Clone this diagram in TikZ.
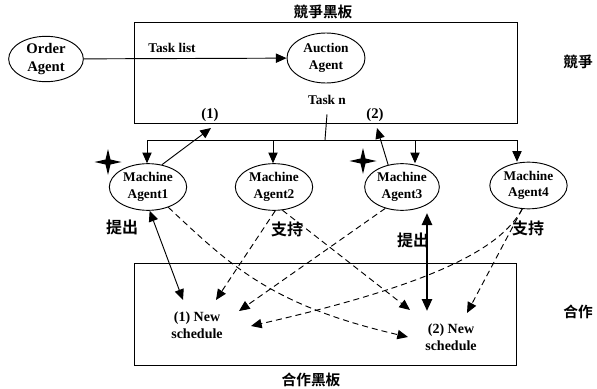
\documentclass[tikz,border=0pt]{standalone}
\usepackage{fontspec}
\setmainfont{Liberation Serif}
\newfontfamily\cjk{Noto Sans CJK TC Bold}
\usetikzlibrary{arrows.meta,shapes.geometric}
\begin{document}
\begin{tikzpicture}[x=0.75pt,y=-0.75pt,
  agent/.style={draw,ellipse,line width=0.7pt,inner sep=0pt,align=center,
    minimum width=58pt,minimum height=35pt,font=\fontsize{10}{12.5}\selectfont\bfseries},
  lbl/.style={font=\fontsize{10}{12}\selectfont\bfseries,inner sep=0pt},
  sched/.style={font=\fontsize{10.5}{12.5}\selectfont\bfseries,inner sep=0pt,align=center},
  cjklbl/.style={font=\cjk\fontsize{12}{14}\selectfont,inner sep=0pt},
  cjktitle/.style={font=\cjk\fontsize{11}{13}\selectfont,inner sep=0pt},
  board/.style={draw,line width=0.7pt,inner sep=0pt},
  conn/.style={line width=0.7pt,-{Triangle[length=8pt,width=7pt]}},
  dconn/.style={conn,dash pattern=on 4.5pt off 3pt},
  biconn/.style={line width=0.7pt,{Triangle[length=8pt,width=7pt]}-{Triangle[length=8pt,width=7pt]}},
  thickbi/.style={line width=1.8pt,{Triangle[length=9pt,width=7.5pt]}-{Triangle[length=9pt,width=7.5pt]}},
  wire/.style={line width=0.7pt}
]
\useasboundingbox (0,0) rectangle (597,389);

% boards
\node[board,minimum width=287.25pt,minimum height=75.75pt] (cb) at (325.5,72.5) {};
\node[board,minimum width=286.5pt,minimum height=76.5pt] (pb) at (325,314) {};
\node[cjktitle] (cbt) at (323,12) {競爭黑板};
\node[cjktitle] (pbt) at (311,380) {合作黑板};
\node[cjktitle] (cr) at (578,62) {競爭};
\node[cjktitle] (pr) at (578,312) {合作};

% top agents
\node[agent,minimum width=56pt,minimum height=34pt,font=\fontsize{11}{14}\selectfont\bfseries] (oa) at (46,59) {Order\\Agent};
\node[agent,minimum width=58.5pt,minimum height=37.5pt] (aa) at (326,58) {Auction\\Agent};
\draw[conn] (oa) -- (aa);
\node[lbl] (tl) at (172,48) {Task list};
\node[lbl] (tn) at (327,100) {Task n};

% machine agents
\node[agent] (m1) at (148,187) {Machine\\Agent1};
\node[agent] (m2) at (274,187) {Machine\\Agent2};
\node[agent,minimum width=56pt] (m3) at (402,187) {Machine\\Agent3};
\node[agent] (m4) at (528.5,185.5) {Machine\\Agent4};

% bus
\coordinate (bus) at (325,140);
\coordinate (bl) at (147,140);
\coordinate (b2) at (273,140);
\coordinate (b3) at (415,140);
\coordinate (br) at (517,140);
\draw[wire] ([yshift=-7pt]tn.south) -- (bus);
\draw[wire] (bl) -- (br);
\draw[conn] (bl) -- (bl |- m1.north);
\draw[conn] (b2) -- (b2 |- m2.north);
\draw[conn] (b3) -- (b3 |- m3.north);
\draw[conn] (br) -- (br |- m4.north);

% (1), (2)
\node[lbl,font=\fontsize{11}{13}\selectfont\bfseries] (l1) at (210,115) {(1)};
\node[lbl,font=\fontsize{11}{13}\selectfont\bfseries] (l2) at (375,115) {(2)};
\coordinate (t1) at (211,128);
\coordinate (t2) at (377,128);
\draw[conn] (m1.58) -- (t1);
\draw[conn] (m3.122) -- (t2);

% stars
\fill (108,162) +(13.5,0) -- +(2.5,2.5) -- +(0,13) -- +(-2.5,2.5) -- +(-13.5,0) -- +(-2.5,-2.5) -- +(0,-13) -- +(2.5,-2.5) -- cycle;
\fill (363,161) +(13.5,0) -- +(2.5,2.5) -- +(0,13) -- +(-2.5,2.5) -- +(-13.5,0) -- +(-2.5,-2.5) -- +(0,-13) -- +(2.5,-2.5) -- cycle;

% CJK labels
\node[cjklbl] (p1) at (122,227) {提出};
\node[cjklbl] (s2) at (287,229) {支持};
\node[cjklbl] (p3) at (413,240) {提出};
\node[cjklbl] (s4) at (528,228) {支持};

% schedules
\node[sched] (ns1) at (197,325) {(1) New\\schedule};
\node[sched] (ns2) at (451,337) {(2) New\\schedule};

\coordinate (e11) at (183,300);
\coordinate (e21) at (216,300);
\coordinate (e31) at (239,311);
\coordinate (e41) at (251,326);
\coordinate (e12) at (408,337);
\coordinate (e22) at (410,310);
\coordinate (e42) at (467,313);
\coordinate (s3) at (427,213);
\coordinate (e32) at (427,311);

\draw[biconn] (m1.-86) -- (e11);
\draw[dconn] (m2.-87) -- (e21);
\draw[dconn] (m3.-128) -- (e31);
\draw[dconn] (m4.-105) .. controls (500,250) and (430,285) .. (e41);
\draw[dconn] (m1.-45) .. controls (230,265) and (270,305) .. (e12);
\draw[dconn] (m2.-70) -- (e22);
\draw[thickbi] (s3) -- (e32);
\draw[dconn] (m4.-105) -- (e42);
\end{tikzpicture}
\end{document}
